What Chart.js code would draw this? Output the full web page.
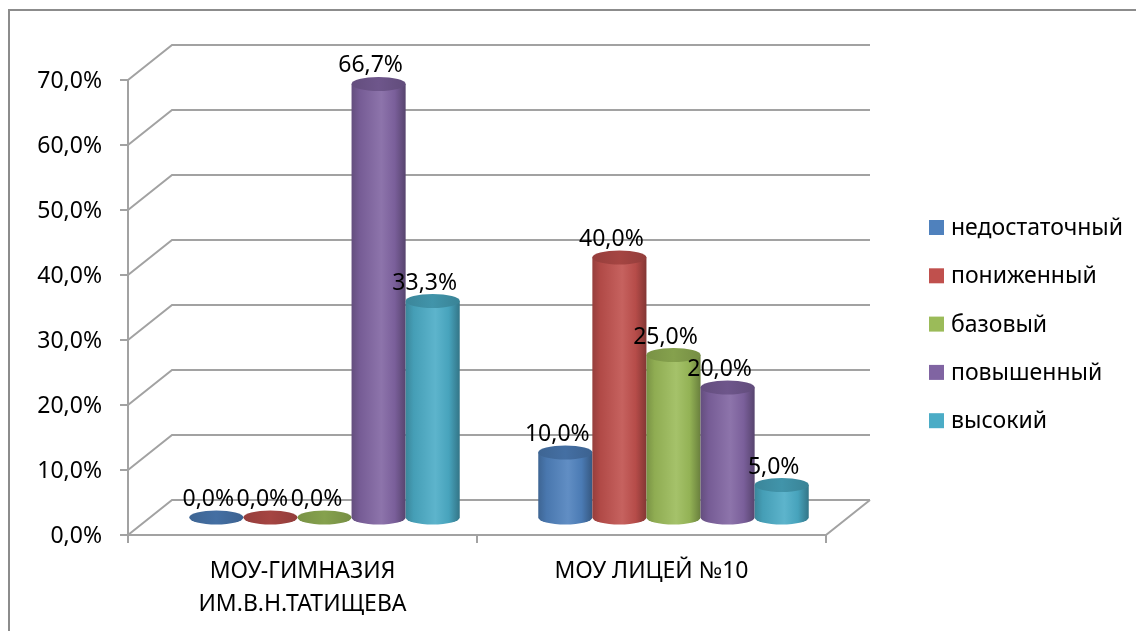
<!DOCTYPE html>
<html>
<head>
<meta charset="utf-8">
<script src="https://cdn.jsdelivr.net/npm/chart.js@4.4.1/dist/chart.umd.min.js"></script>
<style>
html,body{margin:0;padding:0;background:#fff;overflow:hidden;}
canvas{display:block;}
</style>
</head>
<body>
<canvas id="c" width="1136" height="631"></canvas>
<script>
const categories = [["МОУ-ГИМНАЗИЯ", "ИМ.В.Н.ТАТИЩЕВА"], ["МОУ ЛИЦЕЙ №10"]];
const seriesNames = ["недостаточный", "пониженный", "базовый", "повышенный", "высокий"];
const seriesColors = ["#4F81BD", "#C0504D", "#9BBB59", "#8064A2", "#4BACC6"];
const nedostatochny = [0, 10];
const ponizhenny = [0, 40];
const bazovy = [0, 25];
const povyshenny = [66.7, 20];
const vysoky = [33.3, 5];
const yTicks = [0, 10, 20, 30, 40, 50, 60, 70];

const seriesData = [nedostatochny, ponizhenny, bazovy, povyshenny, vysoky];
const FONT = '"Noto Sans", "Open Sans", sans-serif';
const FS = 23;
const DX = 44, DY = 35;      // depth of the 3D box
const GRID = '#a2a2a2';

function fmt(v){ return v.toFixed(1).replace('.', ',') + '%'; }
function shade(hex, f){
  const n = parseInt(hex.slice(1), 16);
  let r = (n >> 16) & 255, g = (n >> 8) & 255, b = n & 255;
  const adj = c => f <= 1 ? Math.round(c * f) : Math.round(c + (255 - c) * (f - 1));
  return 'rgb(' + adj(r) + ',' + adj(g) + ',' + adj(b) + ')';
}

const box3d = {
  id: 'box3d',
  beforeDatasetsDraw(chart){
    const ctx = chart.ctx, ys = chart.scales.y, xs = chart.scales.x, a = chart.chartArea;
    const L = a.left, R = a.right, B = a.bottom;
    ctx.save();
    ctx.strokeStyle = '#8c8c8c'; ctx.lineWidth = 2;
    ctx.beginPath(); ctx.moveTo(9, 640); ctx.lineTo(9, 10); ctx.lineTo(1140, 10); ctx.stroke();
    ctx.strokeStyle = GRID; ctx.lineWidth = 2;
    yTicks.forEach(v => {
      const y = ys.getPixelForValue(v);
      ctx.beginPath();
      ctx.moveTo(L, y); ctx.lineTo(L + DX, y - DY); ctx.lineTo(R + DX, y - DY);
      ctx.stroke();
      ctx.beginPath(); ctx.moveTo(L - 8, y); ctx.lineTo(L, y); ctx.stroke();
    });
    ctx.beginPath(); ctx.moveTo(L, ys.getPixelForValue(yTicks[yTicks.length-1])); ctx.lineTo(L, B); ctx.stroke();
    ctx.beginPath(); ctx.moveTo(L, B); ctx.lineTo(R, B); ctx.lineTo(R + DX, B - DY); ctx.stroke();
    const mid = (xs.getPixelForValue(0) + xs.getPixelForValue(1)) / 2;
    [L, mid, R].forEach(x => { ctx.beginPath(); ctx.moveTo(x, B); ctx.lineTo(x, B + 8); ctx.stroke(); });
    ctx.restore();
  },
  afterDatasetsDraw(chart){
    const ctx = chart.ctx;
    const ox = DX / 2, oy = DY / 2;
    ctx.save();
    chart.data.datasets.forEach((ds, di) => {
      const meta = chart.getDatasetMeta(di);
      meta.data.forEach((bar, i) => {
        const cx = bar.x + ox, w = bar.width, rx = w / 2, ry = 7;
        const top = bar.y - oy, base = bar.base - oy;
        const col = seriesColors[di];
        if (base - top > 0.5) {
          const g = ctx.createLinearGradient(cx - rx, 0, cx + rx, 0);
          g.addColorStop(0, shade(col, 0.78));
          g.addColorStop(0.15, shade(col, 0.92));
          g.addColorStop(0.55, shade(col, 1.1));
          g.addColorStop(0.8, shade(col, 0.95));
          g.addColorStop(1, shade(col, 0.68));
          ctx.fillStyle = g;
          ctx.beginPath();
          ctx.moveTo(cx - rx, top);
          ctx.lineTo(cx - rx, base);
          ctx.ellipse(cx, base, rx, ry, 0, Math.PI, 0, true);
          ctx.lineTo(cx + rx, top);
          ctx.closePath();
          ctx.fill();
        }
        const gt = ctx.createLinearGradient(cx - rx, 0, cx + rx, 0);
        gt.addColorStop(0, shade(col, 0.78));
        gt.addColorStop(0.5, shade(col, 0.86));
        gt.addColorStop(1, shade(col, 0.76));
        ctx.fillStyle = gt;
        ctx.beginPath();
        ctx.ellipse(cx, top, rx, ry, 0, 0, Math.PI * 2);
        ctx.fill();
      });
    });
    ctx.restore();
  },
  afterDraw(chart){
    const ctx = chart.ctx, ys = chart.scales.y, xs = chart.scales.x, a = chart.chartArea;
    ctx.save();
    ctx.fillStyle = '#000';
    ctx.font = FS + 'px ' + FONT;
    ctx.textAlign = 'right'; ctx.textBaseline = 'middle';
    yTicks.forEach(v => ctx.fillText(fmt(v), a.left - 26, ys.getPixelForValue(v) + 1));
    ctx.textAlign = 'center';
    categories.forEach((lines, i) => {
      const x = xs.getPixelForValue(i);
      lines.forEach((t, k) => ctx.fillText(t, x, a.bottom + 36 + k * 33));
    });
    chart.data.datasets.forEach((ds, di) => {
      chart.getDatasetMeta(di).data.forEach((bar, i) => {
        ctx.fillText(fmt(ds.data[i]), bar.x + DX / 2 - 8, bar.y - DY / 2 - 18);
      });
    });
    ctx.textAlign = 'left'; ctx.textBaseline = 'alphabetic';
    seriesNames.forEach((n, k) => {
      const cy = 227.5 + k * 48.3;
      ctx.fillStyle = seriesColors[k];
      ctx.fillRect(929, cy - 7.5, 15, 15);
      ctx.fillStyle = '#000';
      ctx.fillText(n, 951, cy + 7.5);
    });
    ctx.restore();
  }
};

new Chart(document.getElementById('c'), {
  type: 'bar',
  data: {
    labels: categories,
    datasets: seriesNames.map((n, k) => ({
      label: n,
      data: seriesData[k],
      backgroundColor: 'rgba(0,0,0,0)',
      borderWidth: 0,
      barPercentage: 1,
      categoryPercentage: 0.775
    }))
  },
  options: {
    responsive: false,
    animation: false,
    devicePixelRatio: 1,
    layout: { padding: { left: 128, right: 310, top: 80, bottom: 96 } },
    plugins: { legend: { display: false }, tooltip: { enabled: false } },
    scales: {
      x: { display: false },
      y: { display: false, min: 0, max: 70 }
    }
  },
  plugins: [box3d]
});
</script>
</body>
</html>
